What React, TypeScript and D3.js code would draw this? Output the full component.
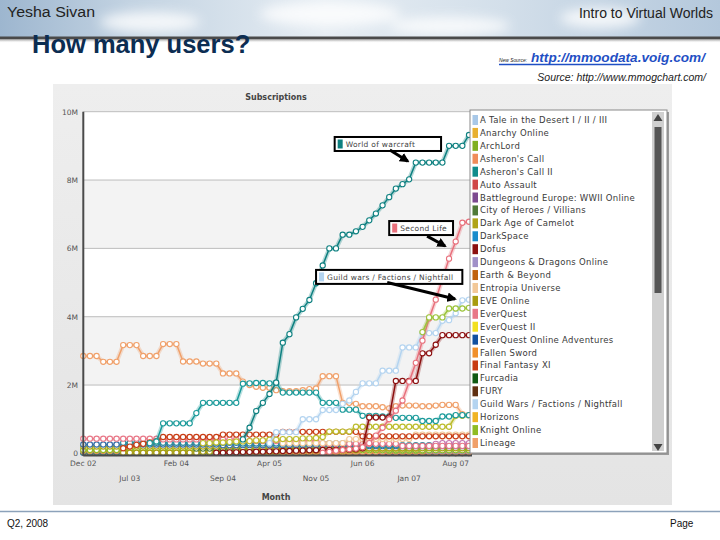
import * as d3 from "d3";

// values, in millions of subscribers
// each entry is a monthly value, or [value, number of months] for a flat run
type Entry = number | [number, number];
type Series = { name: string; color: string; start: number; data: Entry[] };

// months Dec 02 .. Oct 07
const months = d3.timeMonth.range(new Date(2002, 11, 1), new Date(2007, 10, 1));
const tickLabels = ["Dec 02", "Jul 03", "Feb 04", "Sep 04", "Apr 05", "Nov 05", "Jun 06", "Jan 07", "Aug 07"];
const yTicks = [0, 2, 4, 6, 8, 10];

const lineage: Entry[] = [[2.85, 3], [2.68, 3], [3.17, 3], [2.85, 3], [3.2, 3], [2.69, 3], [2.63, 3], [2.34, 3], 2.1, 2.0, 1.95, [1.92, 2], 1.85, [1.82, 3], 1.85, 1.88, 1.9, [2.26, 3], [1.48, 2], 1.45, [1.38, 3], 1.35, 1.32, 1.38, [1.4, 3], [1.38, 2], 1.4, [1.42, 3], 1.15, 1.12];
const lineage2: Entry[] = [0.3, 0.35, [0.88, 5], 1.18, [1.48, 6], 2.04, 2.05, [2.06, 2], 2.05, 2.07, [1.78, 6], [1.48, 3], [1.28, 3], [1.1, 3], [1.08, 2], [1.04, 4], [0.95, 3], [1.08, 2], [1.12, 3]];
const wow: Entry[] = [0.41, 0.75, 1.24, 1.48, 1.74, 2.07, 3.24, 3.49, 3.98, 4.23, 4.49, 4.98, 5.5, [6.0, 2], [6.4, 2], 6.5, 6.63, 6.82, 7.02, 7.26, 7.5, 7.75, 7.88, 8.02, [8.51, 5], [9.0, 3], 9.32];
const guildWars: Entry[] = [0.3, [0.62, 4], [1.0, 3], [1.27, 3], 1.45, 1.55, 1.8, [2.05, 3], [2.42, 3], [3.1, 3], [3.52, 3], 3.88, 3.9, 4.1, 4.48, 4.5];
const secondLife: Entry[] = [0.02, 0.05, 0.08, 0.1, 0.12, 0.14, 0.18, 0.3, 0.52, 0.75, 1.0, 1.25, 1.55, 2.1, 2.65, 3.3, 3.95, 4.5, 5.1, 5.7, 6.2, 6.75, 6.78];
const dofus: Entry[] = [0.02, 0.02, 0.03, 0.03, 0.04, 0.04, 0.05, 0.05, 0.06, 0.06, 0.07, 0.07, 0.08, 0.08, 0.09, 0.09, 0.1, 0.1, 0.1, 0.11, 0.11, 0.12, 0.15, [1.05, 4], [2.12, 4], [2.93, 2], 3.18, [3.46, 5]];
const runeScape: Entry[] = [0.3, 0.3, 0.32, 0.32, 0.33, 0.35, 0.35, 0.36, 0.38, 0.38, 0.4, 0.4, 0.42, 0.42, 0.42, 0.44, 0.44, 0.45, 0.48, [0.64, 4], [0.78, 15], 1.1, 1.1, 1.12];
const mapleStory: Entry[] = [3.55, [3.98, 3], [4.24, 3], 4.26];
const ffxi: Entry[] = [0.15, 0.2, 0.25, 0.28, 0.32, 0.36, [0.48, 9], [0.55, 9], [0.63, 12], [0.5, 17]];
const everquest: Entry[] = [[0.43, 12], [0.41, 12], [0.36, 12], [0.28, 12], [0.22, 11]];
const ultima: Entry[] = [[0.26, 21], [0.24, 20], [0.21, 18]];
const swg: Entry[] = [[0.31, 18], [0.29, 17], [0.24, 18]];
const daoc: Entry[] = [[0.2, 24], [0.18, 18], [0.15, 17]];
const coh: Entry[] = [[0.14, 12], [0.16, 15], [0.17, 15]];
const eq2: Entry[] = [[0.12, 12], [0.16, 12], [0.18, 12]];
const knight: Entry[] = [[0.1, 30], [0.09, 29]];
const ac1: Entry[] = [[0.07, 20], [0.06, 20], [0.05, 19]];
const ac2: Entry[] = [[0.05, 20], [0.03, 17]];
const anarchy: Entry[] = [[0.05, 30], [0.04, 29]];
const tale: Entry[] = [[0.01, 59]];
const darkspace: Entry[] = [[0.02, 59]];
const battleground: Entry[] = [[0.03, 59]];
const furcadia: Entry[] = [[0.04, 59]];
const eve: Entry[] = [[0.02, 12], [0.05, 12], [0.09, 12], [0.14, 9], [0.19, 8]];
const eqoa: Entry[] = [[0.04, 30], [0.02, 29]];
const entropia: Entry[] = [[0.3, 10], [0.42, 10], [0.55, 9]];
const lotro: Entry[] = [0.22, 0.28, [0.3, 5]];
const archlord: Entry[] = [[0.08, 13]];
const ddo: Entry[] = [[0.12, 6], [0.09, 7], [0.07, 7]];
const earthBeyond: Entry[] = [[0.03, 21]];
const fallenSword: Entry[] = [[0.03, 18], [0.05, 17]];
const fury: Entry[] = [[0.01, 4]];
const horizons: Entry[] = [[0.02, 47]];
const autoAssault: Entry[] = [[0.02, 10]];

// drawing order: small ones first
const series: Series[] = [
  { name: "A Tale in the Desert I / II / III", color: "#a8c8e8", start: 0, data: tale },
  { name: "DarkSpace", color: "#1a8ccc", start: 0, data: darkspace },
  { name: "FURY", color: "#603012", start: 55, data: fury },
  { name: "Horizons", color: "#f0b424", start: 12, data: horizons },
  { name: "Auto Assault", color: "#d04848", start: 42, data: autoAssault },
  { name: "Battleground Europe: WWII Online", color: "#7c4a90", start: 0, data: battleground },
  { name: "Earth & Beyond", color: "#c0620e", start: 0, data: earthBeyond },
  { name: "Furcadia", color: "#105a14", start: 0, data: furcadia },
  { name: "EverQuest Online Adventures", color: "#1050a0", start: 0, data: eqoa },
  { name: "Anarchy Online", color: "#e8b030", start: 0, data: anarchy },
  { name: "Asheron's Call II", color: "#108c8c", start: 0, data: ac2 },
  { name: "Fallen Sword", color: "#f0902c", start: 24, data: fallenSword },
  { name: "Asheron's Call", color: "#f08c5a", start: 0, data: ac1 },
  { name: "ArchLord", color: "#80b020", start: 46, data: archlord },
  { name: "Dungeons & Dragons Online", color: "#a090c8", start: 39, data: ddo },
  { name: "Knight Online", color: "#90bc24", start: 0, data: knight },
  { name: "EVE Online", color: "#a89c10", start: 6, data: eve },
  { name: "EverQuest II", color: "#f2e020", start: 23, data: eq2 },
  { name: "City of Heroes / Villians", color: "#507a38", start: 17, data: coh },
  { name: "Dark Age of Camelot", color: "#b0a418", start: 0, data: daoc },
  { name: "Ultima Online", color: "#3870a8", start: 0, data: ultima },
  { name: "Star Wars Galaxies", color: "#2a8c9c", start: 6, data: swg },
  { name: "Lord of the Rings Online", color: "#c878b0", start: 52, data: lotro },
  { name: "EverQuest", color: "#e87888", start: 0, data: everquest },
  { name: "Entropia Universe", color: "#f2c898", start: 30, data: entropia },
  { name: "Final Fantasy XI", color: "#c83c14", start: 6, data: ffxi },
  { name: "RuneScape", color: "#bcbc2c", start: 18, data: runeScape },
  { name: "Lineage", color: "#f0a06a", start: 0, data: lineage },
  { name: "Lineage II", color: "#1a9a9a", start: 10, data: lineage2 },
  { name: "Guild Wars / Factions / Nightfall", color: "#b4d4f0", start: 28, data: guildWars },
  { name: "Dofus", color: "#8c1010", start: 20, data: dofus },
  { name: "Second Life", color: "#e8707c", start: 36, data: secondLife },
  { name: "MapleStory", color: "#9cc43c", start: 51, data: mapleStory },
  { name: "World of Warcraft", color: "#0e8080", start: 24, data: wow },
];

// call-out boxes, placed in data units: [left month, top value, right month]
const annotations = [
  { label: "World of warcraft", color: "#0e8080", box: [37.8, 9.26, 53.8], from: [46.1, 8.88], to: [48.8, 8.55] },
  { label: "Second Life", color: "#e8707c", box: [46.0, 6.8, 55.6], from: [51.7, 6.36], to: [54.4, 6.07] },
  { label: "Guild wars / Factions / Nightfall", color: "#b4d4f0", box: [35.0, 5.37, 57.0], from: [45.7, 5.0], to: [55.9, 4.52] },
];

type Pt = { i: number; v: number };
const expand = (s: Series): Pt[] => {
  const out: Pt[] = [];
  let i = s.start;
  for (const e of s.data) {
    const [v, n] = typeof e === "number" ? [e, 1] : e;
    for (let k = 0; k < n; k++) out.push({ i: i++, v });
  }
  return out;
};

const fmt = d3.timeFormat("%b %y");
const chartFont = "DejaVu Sans, Verdana, sans-serif";
const slideFont = "Liberation Sans, Arial, sans-serif";

export default function App() {
  const x = d3.scaleLinear().domain([0, 56]).range([83.3, 455.7]);
  const y = d3.scaleLinear().domain([0, 10]).range([453.4, 111.7]);
  const line = d3.line<Pt>().x((d) => x(d.i)).y((d) => y(d.v));

  const legendItems = [...series]
    .sort((a, b) => (a.name.toLowerCase() < b.name.toLowerCase() ? -1 : 1))
    .slice(0, 26);
  const ly = d3.scalePoint<string>().domain(legendItems.map((d) => d.name)).range([120, 443]);

  const plotLeft = x(0);
  const plotRight = 472;

  return (
    <div style={{ position: "absolute", left: 0, top: 0 }}>
      <svg width={720} height={540} style={{ display: "block" }}>
        <defs>
          <linearGradient id="sky" x1="0" x2="1" y1="0" y2="0">
            <stop offset="0" stopColor="#9db6cf" />
            <stop offset="0.18" stopColor="#c3d3e2" />
            <stop offset="0.45" stopColor="#e6edf3" />
            <stop offset="0.7" stopColor="#d3dfea" />
            <stop offset="1" stopColor="#b4c8dc" />
          </linearGradient>
          <linearGradient id="shade" x1="0" x2="0" y1="0" y2="1">
            <stop offset="0" stopColor="#8a8a8a" />
            <stop offset="1" stopColor="#ffffff" stopOpacity="0" />
          </linearGradient>
          <linearGradient id="panel" x1="0" x2="0" y1="0" y2="1">
            <stop offset="0" stopColor="#eeeeee" />
            <stop offset="1" stopColor="#e4e4e4" />
          </linearGradient>
          <filter id="blur" x="-50%" y="-50%" width="200%" height="200%">
            <feGaussianBlur stdDeviation="6" />
          </filter>
          <clipPath id="plotClip">
            <rect x={plotLeft - 4} y={100} width={plotRight - plotLeft + 4} height={358} />
          </clipPath>
          <marker id="arrow" viewBox="0 0 10 10" refX="8" refY="5" markerWidth="3.2" markerHeight="3.2" orient="auto">
            <path d="M0,0 L10,5 L0,10 z" fill="#000" />
          </marker>
        </defs>

        {/* slide header */}
        <rect x={0} y={0} width={720} height={38} fill="url(#sky)" />
        <g filter="url(#blur)" fill="#ffffff" opacity={0.8}>
          <ellipse cx={150} cy={22} rx={50} ry={10} />
          <ellipse cx={330} cy={14} rx={70} ry={12} />
          <ellipse cx={450} cy={26} rx={60} ry={9} />
          <ellipse cx={600} cy={18} rx={40} ry={10} />
        </g>
        <rect x={0} y={36.5} width={720} height={2.5} fill="#4a4a4a" />
        <rect x={0} y={39} width={720} height={4} fill="url(#shade)" />
        <text x={7} y={17} fontFamily={slideFont} fontSize={14} fill="#222" textLength={88} lengthAdjust="spacingAndGlyphs">
          Yesha Sivan
        </text>
        <text x={713} y={18} fontFamily={slideFont} fontSize={14} fill="#222" textAnchor="end">
          Intro to Virtual Worlds
        </text>
        <text x={32} y={53} fontFamily={slideFont} fontSize={25.5} fontWeight="bold" fill="#0c2d52">
          How many users?
        </text>
        <text x={499} y={62} fontFamily={slideFont} fontSize={6} fontStyle="italic" fill="#222" textLength={28} lengthAdjust="spacingAndGlyphs">
          New Source:
        </text>
        <text x={531} y={62} fontFamily={slideFont} fontSize={13} fontStyle="italic" fontWeight="bold" fill="#1f4fc4" textLength={174} lengthAdjust="spacingAndGlyphs">
          http://mmoodata.voig.com/
        </text>
        <line x1={499} x2={631} y1={64.5} y2={64.5} stroke="#1f4fc4" strokeWidth={1.5} />
        <text x={706} y={81} fontFamily={slideFont} fontSize={10.5} fontStyle="italic" fill="#222" textAnchor="end">
          Source: http://www.mmogchart.com/
        </text>

        {/* chart panel */}
        <rect x={53} y={84} width={619} height={421} fill="url(#panel)" />
        <text x={276} y={100} fontFamily={chartFont} fontSize={8} fontWeight="bold" fill="#444" textAnchor="middle">
          Subscriptions
        </text>

        {/* plot bands and grid */}
        {yTicks.slice(0, -1).map((t, k) => (
          <rect key={t} x={plotLeft} y={y(t + 2)} width={plotRight - plotLeft} height={y(t) - y(t + 2)} fill={k % 2 === 1 ? "#f3f3f3" : "#ffffff"} />
        ))}
        {yTicks.slice(1).map((t) => (
          <line key={t} x1={plotLeft} x2={plotRight} y1={y(t)} y2={y(t)} stroke="#bdbdbd" strokeWidth={1} />
        ))}
        {yTicks.map((t) => (
          <text key={t} x={78} y={y(t) + 3} fontFamily={chartFont} fontSize={7.5} fill="#555" textAnchor="end">
            {t === 0 ? "0" : `${t}M`}
          </text>
        ))}

        {/* series */}
        <g clipPath="url(#plotClip)">
          {series.map((s) => {
            const pts = expand(s);
            return (
              <g key={s.name}>
                <path d={line(pts) ?? ""} fill="none" stroke={s.color} strokeOpacity={0.3} strokeWidth={4.5} />
                <path d={line(pts) ?? ""} fill="none" stroke={s.color} strokeWidth={1.5} />
                {pts.map((p) => (
                  <circle key={p.i} cx={x(p.i)} cy={y(p.v)} r={2.6} fill="#fff" stroke={s.color} strokeWidth={1.1} />
                ))}
              </g>
            );
          })}
        </g>

        {/* axes */}
        <line x1={plotLeft} x2={plotLeft} y1={y(10)} y2={455.5} stroke="#4a4a4a" strokeWidth={2} />
        <line x1={plotLeft} x2={plotRight} y1={455.5} y2={455.5} stroke="#4a4a4a" strokeWidth={2} />
        {tickLabels.map((lab, k) => {
          const idx = months.findIndex((m) => fmt(m) === lab);
          return (
            <text key={lab} x={x(idx)} y={k % 2 === 0 ? 466 : 481} fontFamily={chartFont} fontSize={7.5} fill="#555" textAnchor="middle">
              {lab}
            </text>
          );
        })}
        <text x={276} y={500} fontFamily={chartFont} fontSize={8} fontWeight="bold" fill="#444" textAnchor="middle">
          Month
        </text>

        {/* call-outs */}
        {annotations.map((a) => {
          const bx = x(a.box[0]);
          const by = y(a.box[1]);
          const bw = x(a.box[2]) - bx;
          return (
            <g key={a.label}>
              <rect x={bx} y={by} width={bw} height={14} fill="#fff" stroke="#000" strokeWidth={2} />
              <rect x={bx + 3} y={by + 2.5} width={5} height={9} fill={a.color} />
              <text x={bx + 11} y={by + 10} fontFamily={chartFont} fontSize={7.5} fill="#444" letterSpacing={0.3}>
                {a.label}
              </text>
              <line x1={x(a.from[0])} y1={y(a.from[1])} x2={x(a.to[0])} y2={y(a.to[1])} stroke="#000" strokeWidth={3} markerEnd="url(#arrow)" />
            </g>
          );
        })}

        {/* legend */}
        <rect x={472} y={112} width={197} height={343} fill="#9a9a9a" />
        <rect x={470} y={110} width={197} height={343} fill="#fff" stroke="#8a8a8a" strokeWidth={1} />
        {legendItems.map((s) => (
          <g key={s.name}>
            <rect x={472.5} y={(ly(s.name) ?? 0) - 5} width={5.5} height={10} fill={s.color} />
            <text x={480} y={(ly(s.name) ?? 0) + 3} fontFamily={chartFont} fontSize={8.5} fill="#3a3a3a" letterSpacing={0.3}>
              {s.name}
            </text>
          </g>
        ))}
        <rect x={652} y={112} width={12} height={339} fill="#d0d0d0" />
        <path d="M653.5,121 L658,114 L662.5,121 z" fill="#444" />
        <rect x={654.5} y={127} width={7} height={166} fill="#555" />
        <path d="M653.5,444 L658,451 L662.5,444 z" fill="#444" />

        {/* footer */}
        <line x1={0} x2={720} y1={511.5} y2={511.5} stroke="#8ca2ba" strokeWidth={1.5} />
        <text x={7} y={527} fontFamily={slideFont} fontSize={10} fill="#111">
          Q2, 2008
        </text>
        <text x={670} y={527} fontFamily={slideFont} fontSize={10} fill="#111">
          Page
        </text>
      </svg>
    </div>
  );
}
